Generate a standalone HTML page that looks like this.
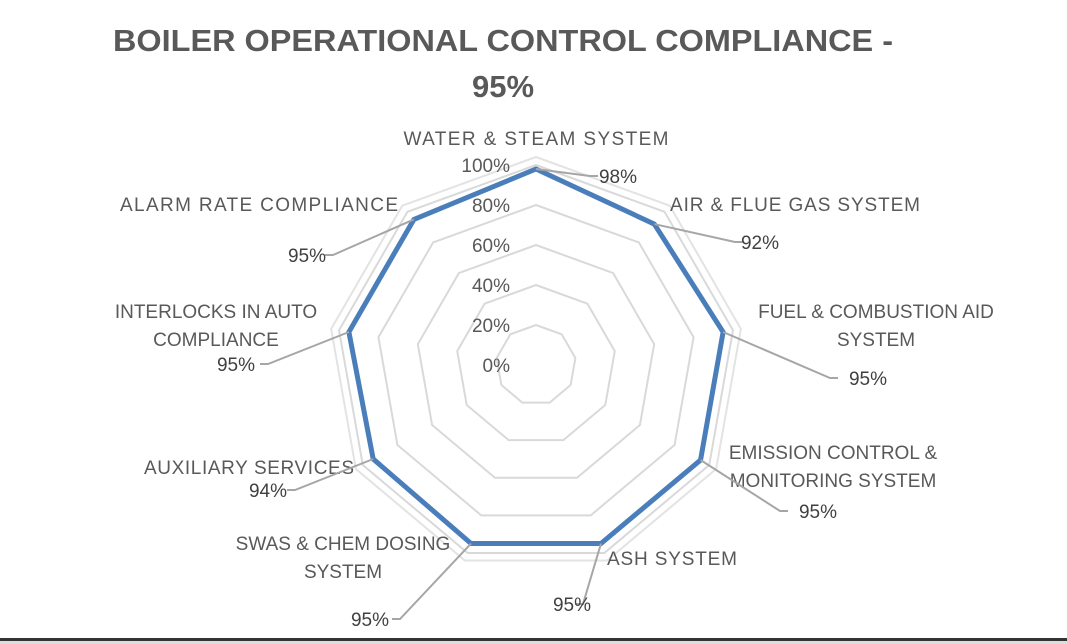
<!DOCTYPE html>
<html><head><meta charset="utf-8"><style>
html,body{margin:0;padding:0;background:#fff;}
svg{display:block;font-family:"Liberation Sans",sans-serif;}
</style></head><body>
<svg id="chart" width="1067" height="644" viewBox="0 0 1067 644" xmlns="http://www.w3.org/2000/svg">
<rect x="0" y="0" width="1067" height="644" fill="#fff"/>
<text x="503" y="51" text-anchor="middle" font-size="31" font-weight="bold" fill="#595959" textLength="780" lengthAdjust="spacingAndGlyphs">BOILER OPERATIONAL CONTROL COMPLIANCE -</text>
<text x="503" y="97" text-anchor="middle" font-size="31" font-weight="bold" fill="#595959">95%</text>
<g id="grid"></g><g id="series"></g><g id="labels"></g>
<rect x="0" y="638" width="1067" height="3" fill="#333"/>
<rect x="0" y="641" width="1067" height="3" fill="#ddd"/>
</svg>
<script>
const categories=["WATER & STEAM SYSTEM","AIR & FLUE GAS SYSTEM","FUEL & COMBUSTION AID|SYSTEM","EMISSION CONTROL &|MONITORING SYSTEM","ASH SYSTEM","SWAS & CHEM DOSING|SYSTEM","AUXILIARY SERVICES","INTERLOCKS  IN AUTO|COMPLIANCE","ALARM RATE COMPLIANCE"];
const values=[98,92,95,95,95,95,94,95,95];
const ticks=[0,20,40,60,80,100];
const valueLabels=["98%","92%","95%","95%","95%","95%","94%","95%","95%"];
const NS="http://www.w3.org/2000/svg";
const cx=536,cy=365,R=200,N=categories.length;
function pt(i,v){const a=i*2*Math.PI/N;return [cx+R*v/100*Math.sin(a),cy-R*v/100*Math.cos(a)];}
function mk(tag,attrs,parent){const e=document.createElementNS(NS,tag);for(const k in attrs)e.setAttribute(k,attrs[k]);parent.appendChild(e);return e;}
const grid=document.getElementById('grid'),ser=document.getElementById('series'),lab=document.getElementById('labels');
ticks.forEach(t=>{if(t===0)return;const p=[];for(let i=0;i<N;i++)p.push(pt(i,t).join(','));
const g=mk('polygon',{points:p.join(' '),fill:'none',stroke:'#d9d9d9','stroke-width':2},grid);

});
mk('polygon',{points:Array.from({length:N},(_,i)=>pt(i,104).join(',')).join(' '),fill:'none',stroke:'#e3e3e3','stroke-width':2},grid);
ticks.forEach(t=>{const y=cy-R*t/100;const e=mk('text',{x:cx-26,y:y+7,'text-anchor':'end','font-size':19,fill:'#595959'},grid);e.textContent=t+'%';

});
const pts=values.map((v,i)=>pt(i,v).join(','));
const line=mk('polygon',{points:pts.join(' '),fill:'none',stroke:'#4a7ebb','stroke-width':5,'stroke-linejoin':'miter'},ser);


// label layout
const catPos=[[536,145,'middle'],[795,211,'middle'],[876,318,'middle'],[833,459,'middle'],[672,565,'middle'],[343,550,'middle'],[249,474,'middle'],[216,318,'middle'],[259,211,'middle']];
const valPos=[[618,183,'middle',590],[760,249,'middle',735],[868,385,'middle',830],[818,518,'middle',780],[572,611,'middle',583],[370,626,'middle',400],[268,497,'middle',295],[236,371,'middle',268],[307,262,'middle',333]];
const lens=[265,250,270,235,130,245,210,228,278];
categories.forEach((c,i)=>{const [x,y,a]=catPos[i];const parts=c.split('|');
parts.forEach((s,j)=>{const e=mk('text',{x:x,y:y+j*28,'text-anchor':a,'font-size':19,fill:'#595959'},lab);e.textContent=s;
if(j===0&&parts.length===1)e.setAttribute('textLength',lens[i]);

});});
values.forEach((v,i)=>{const [x,y,a,lx]=valPos[i];const p=pt(i,v);
const l=mk('polyline',{points:p.join(',')+' '+lx+','+(y-7)+' '+(lx+(lx>x?-8:8))+','+(y-7),fill:'none',stroke:'#a6a6a6','stroke-width':2},lab);


const e=mk('text',{x:x,y:y,'text-anchor':a,'font-size':19,fill:'#404040'},lab);e.textContent=valueLabels[i];

});
</script>
</body></html>
